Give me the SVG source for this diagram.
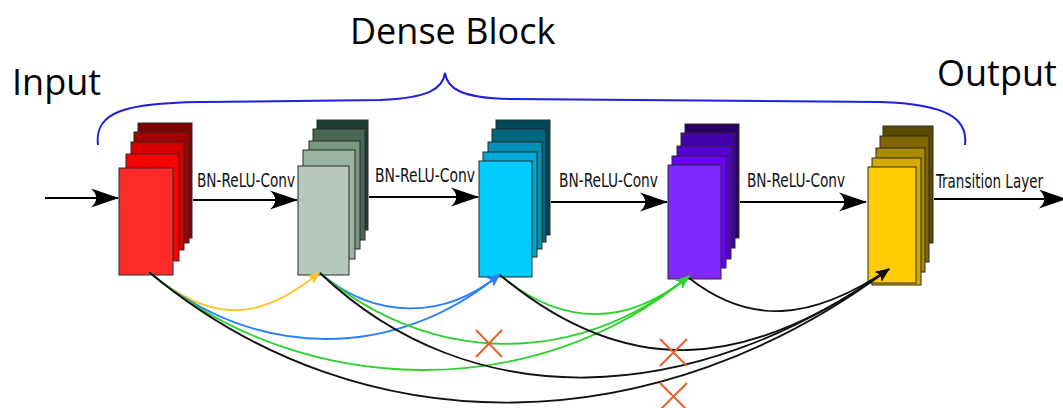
<svg xmlns="http://www.w3.org/2000/svg" width="1063" height="408" viewBox="0 0 1063 408">
<style>
.bg{fill:#ffffff}
.ly{stroke:#2b2b2b;stroke-width:1}
.title{font-family:"Open Sans","DejaVu Sans",sans-serif;font-size:36px;fill:#000}
.lbl{font-family:"DejaVu Sans Condensed","DejaVu Sans",sans-serif;font-stretch:condensed;font-size:15px;fill:#111}
.main{stroke:#000;stroke-width:2;fill:none;marker-end:url(#bigArrow)}
.cv{fill:none;stroke-width:1.8}
.y{stroke:#fcc62a;marker-end:url(#hY)}
.b{stroke:#2a7fff;marker-end:url(#hB)}
.g{stroke:#2ed12e;marker-end:url(#hG)}
.k{stroke:#111;marker-end:url(#hK)}
.x{stroke:#e8602c;stroke-width:2;fill:none}
.brace{fill:none;stroke:#1f1fe0;stroke-width:2}
</style>
<defs>
<marker id="bigArrow" markerUnits="userSpaceOnUse" markerWidth="32" markerHeight="22" viewBox="-30 -11 32 22" refX="0" refY="0" orient="auto"><path d="M1,0 L-27,-9.5 C-20,-3 -20,3 -27,9.5 Z" fill="#000"/></marker>
<marker id="hY" markerUnits="userSpaceOnUse" markerWidth="16" markerHeight="14" viewBox="-15 -7 16 14" refX="0" refY="0" orient="auto"><path d="M0.5,0 L-13,-5.5 C-10,-2 -10,2 -13,5.5 Z" fill="#fcc62a"/></marker>
<marker id="hB" markerUnits="userSpaceOnUse" markerWidth="16" markerHeight="14" viewBox="-15 -7 16 14" refX="0" refY="0" orient="auto"><path d="M0.5,0 L-13,-5.5 C-10,-2 -10,2 -13,5.5 Z" fill="#2a7fff"/></marker>
<marker id="hG" markerUnits="userSpaceOnUse" markerWidth="16" markerHeight="14" viewBox="-15 -7 16 14" refX="0" refY="0" orient="auto"><path d="M0.5,0 L-13,-5.5 C-10,-2 -10,2 -13,5.5 Z" fill="#2ed12e"/></marker>
<marker id="hK" markerUnits="userSpaceOnUse" markerWidth="16" markerHeight="14" viewBox="-15 -7 16 14" refX="0" refY="0" orient="auto"><path d="M0.5,0 L-13,-5.5 C-10,-2 -10,2 -13,5.5 Z" fill="#111"/></marker>
</defs>
<rect class="bg" x="0" y="0" width="1063" height="408"/>

<g id="titles">
<text class="title" x="350" y="44">Dense Block</text>
<text class="title" x="12" y="95">Input</text>
<text class="title" x="937" y="86">Output</text>
</g>

<path id="brace" class="brace" d="M98,145 C94,112 125,103 200,102 L380,100 C430,98 443,88 445,73 C447,88 460,98 510,99 L880,102 C950,104 968,120 965,145"/>

<g id="stack1">
<rect class="ly" x="138" y="123" width="54" height="115" fill="#800000"/>
<rect class="ly" x="134" y="132" width="55" height="111" fill="#a00000"/>
<rect class="ly" x="131" y="142" width="53" height="108" fill="#d40000"/>
<rect class="ly" x="126" y="154" width="53" height="107" fill="#ff0000"/>
<rect class="ly" x="119" y="168" width="54" height="107" fill="#ff2a2a"/>
</g>
<g id="stack2">
<rect class="ly" x="317" y="120" width="51" height="110" fill="#1e3c33"/>
<rect class="ly" x="313" y="129" width="52" height="111" fill="#4a6754"/>
<rect class="ly" x="309" y="141" width="51" height="108" fill="#77977f"/>
<rect class="ly" x="303" y="150" width="52" height="109" fill="#9bb5a4"/>
<rect class="ly" x="298" y="166" width="51" height="109" fill="#b7c8bc"/>
</g>
<g id="stack3">
<rect class="ly" x="496" y="120" width="54" height="115" fill="#00475a"/>
<rect class="ly" x="492" y="129" width="54" height="113" fill="#006680"/>
<rect class="ly" x="488" y="142" width="54" height="107" fill="#0090b8"/>
<rect class="ly" x="483" y="152" width="54" height="105" fill="#00a8d8"/>
<rect class="ly" x="479" y="161" width="53" height="116" fill="#00ccff"/>
</g>
<g id="stack4">
<rect class="ly" x="685" y="124" width="54" height="114" fill="#2a0066"/>
<rect class="ly" x="681" y="133" width="54" height="115" fill="#4400aa"/>
<rect class="ly" x="677" y="146" width="54" height="113" fill="#5500d4"/>
<rect class="ly" x="672" y="156" width="54" height="112" fill="#6a00ff"/>
<rect class="ly" x="668" y="165" width="53" height="114" fill="#7f2aff"/>
</g>
<g id="stack5">
<rect class="ly" x="883" y="126" width="50" height="117" fill="#5c4a00"/>
<rect class="ly" x="880" y="136" width="49" height="126" fill="#806600"/>
<rect class="ly" x="876" y="148" width="49" height="124" fill="#aa8800"/>
<rect class="ly" x="872" y="158" width="49" height="127" fill="#d4aa00"/>
<rect class="ly" x="868" y="167" width="48" height="116" fill="#ffcc00"/>
</g>

<g id="connectors">
<line class="main" x1="45" y1="198" x2="118" y2="198"/>
<line class="main" x1="193" y1="200" x2="297" y2="200"/>
<line class="main" x1="369" y1="197" x2="478" y2="197"/>
<line class="main" x1="551" y1="202" x2="667" y2="202"/>
<line class="main" x1="740" y1="202" x2="866" y2="202"/>
<line class="main" x1="934" y1="199" x2="1066" y2="199"/>

<path class="cv y" d="M149,272 C210,323 259,323 320,272"/>
<path class="cv b" d="M149,272 C255,361 396,361 500,274"/>
<path class="cv b" d="M320,273 C375,320 445,320 500,274"/>
<path class="cv g" d="M149,272 C304,402 539,402 689,276"/>
<path class="cv g" d="M320,273 C431,367 578,367 689,276"/>
<path class="cv g" d="M500,275 C562,327 627,327 689,276"/>
<path class="cv k" d="M149,272 C366,453 660,440 889,269"/>
<path class="cv k" d="M320,273 C470,416 690,410 889,269"/>
<path class="cv k" d="M500,275 C626,380 745,372 889,269"/>
<path class="cv k" d="M689,278 C749,325 810,322 889,269"/>
</g>

<g id="labels">
<text class="lbl" transform="translate(197,187) scale(1,1.25)" textLength="98" lengthAdjust="spacingAndGlyphs">BN-ReLU-Conv</text>
<text class="lbl" transform="translate(375,182) scale(1,1.25)" textLength="100" lengthAdjust="spacingAndGlyphs">BN-ReLU-Conv</text>
<text class="lbl" transform="translate(559,187) scale(1,1.25)" textLength="99" lengthAdjust="spacingAndGlyphs">BN-ReLU-Conv</text>
<text class="lbl" transform="translate(747,187) scale(1,1.25)" textLength="98" lengthAdjust="spacingAndGlyphs">BN-ReLU-Conv</text>
<text class="lbl" transform="translate(936,188) scale(1,1.25)" textLength="107" lengthAdjust="spacingAndGlyphs">Transition Layer</text>
</g>

<g id="marks">
<path class="x" d="M476,330 L502,357 M502,330 L476,357"/>
<path class="x" d="M660,339 L687,366 M687,339 L660,366"/>
<path class="x" d="M660,383 L687,410 M687,383 L660,410"/>
</g>
</svg>
